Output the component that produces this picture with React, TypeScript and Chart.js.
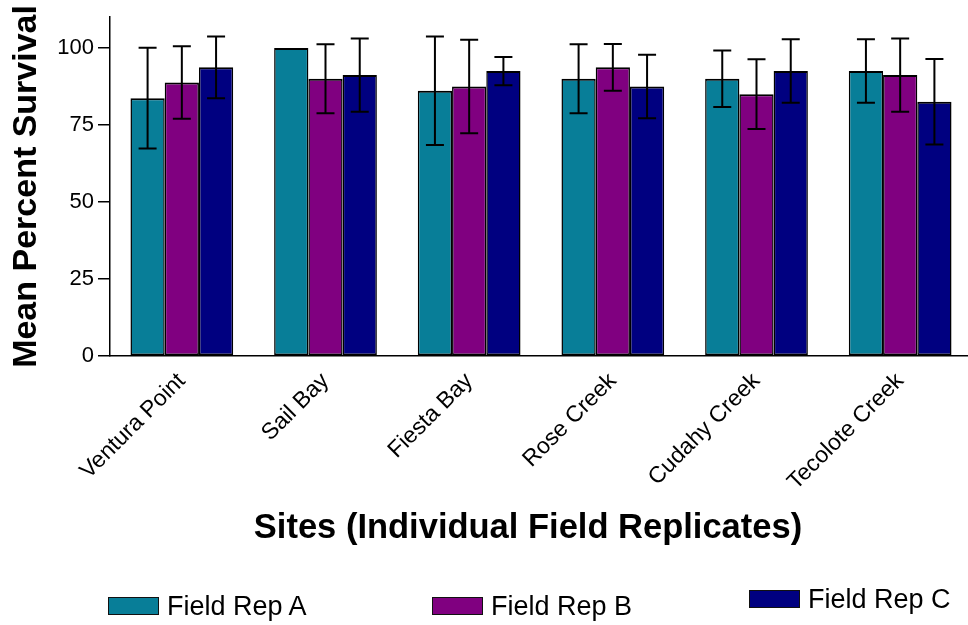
import React, { useEffect, useRef } from "react";
import { Chart, registerables } from "chart.js";

Chart.register(...registerables);

// ---- data ----
const sites = ["Ventura Point", "Sail Bay", "Fiesta Bay", "Rose Creek", "Cudahy Creek", "Tecolote Creek"];
const seriesNames = ["Field Rep A", "Field Rep B", "Field Rep C"];
const seriesColors = ["#087E98", "#800080", "#000080"];
const repA = [83.7, 100, 86.1, 90.0, 90.0, 92.5];
const repAErr = [16.4, 0, 17.6, 11.2, 9.2, 10.3];
const repB = [88.8, 90.0, 87.5, 93.7, 85.0, 91.2];
const repBErr = [11.8, 11.2, 15.2, 7.6, 11.3, 11.9];
const repC = [93.7, 91.2, 92.5, 87.5, 92.5, 82.5];
const repCErr = [10.0, 11.9, 4.6, 10.3, 10.3, 13.9];
const yTickValues = [0, 25, 50, 75, 100];
const yMin = 0;
const yMax = 110;
const yTitle = "Mean Percent Survival";
const xTitle = "Sites (Individual Field Replicates)";

const FONT = "'Liberation Sans', Arial, Helvetica, sans-serif";

const errorBarPlugin = {
  id: "errorBars",
  afterDatasetsDraw(chart: any) {
    const ctx = chart.ctx;
    const y = chart.scales.y;
    chart.data.datasets.forEach((ds: any, di: number) => {
      const meta = chart.getDatasetMeta(di);
      meta.data.forEach((bar: any, i: number) => {
        const e = ds.errors ? ds.errors[i] : 0;
        if (!e) return;
        const v = ds.data[i];
        const yTop = y.getPixelForValue(v + e);
        const yBot = y.getPixelForValue(v - e);
        const half = 9;
        ctx.save();
        ctx.strokeStyle = "#000";
        ctx.lineWidth = 2;
        ctx.beginPath();
        ctx.moveTo(bar.x, yTop);
        ctx.lineTo(bar.x, yBot);
        ctx.moveTo(bar.x - half, yTop);
        ctx.lineTo(bar.x + half, yTop);
        ctx.moveTo(bar.x - half, yBot);
        ctx.lineTo(bar.x + half, yBot);
        ctx.stroke();
        ctx.restore();
      });
    });
  },
};

const legendPos = [
  { left: 108, top: 597 },
  { left: 432, top: 597 },
  { left: 749, top: 590 },
];

export default function App() {
  const canvasRef = useRef<HTMLCanvasElement | null>(null);

  useEffect(() => {
    document.body.style.margin = "0";
    const canvas = canvasRef.current;
    if (!canvas) return;
    const values = [repA, repB, repC];
    const errs = [repAErr, repBErr, repCErr];
    const chart = new Chart(canvas, {
      type: "bar",
      data: {
        labels: sites,
        datasets: seriesNames.map((name, i) => ({
          label: name,
          data: values[i],
          errors: errs[i],
          backgroundColor: seriesColors[i],
          borderColor: "#000",
          borderWidth: { top: 2, left: 1.5, right: 1.5, bottom: 1.5 },
          borderSkipped: false,
          categoryPercentage: 0.715,
          barPercentage: 1.0,
        })) as any,
      },
      options: {
        animation: false,
        responsive: true,
        maintainAspectRatio: false,
        layout: { padding: { top: 10, left: 0, right: 0, bottom: 0 } },
        plugins: {
          legend: { display: false },
          tooltip: { enabled: false },
        },
        scales: {
          x: {
            grid: { display: false },
            border: { display: true, color: "#000", width: 1.5 },
            ticks: {
              color: "#000",
              font: { family: FONT, size: 23 },
              minRotation: 45,
              maxRotation: 45,
              padding: 4,
              autoSkip: false,
            },
            afterFit: (s: any) => {
              s.height = 269.3;
            },
          },
          y: {
            min: yMin,
            max: yMax,
            afterFit: (s: any) => {
              s.width = 110;
            },
            afterBuildTicks: (s: any) => {
              s.ticks = yTickValues.map((v) => ({ value: v }));
            },
            grid: {
              display: true,
              drawOnChartArea: false,
              drawTicks: true,
              tickLength: 12,
              color: "#000",
              lineWidth: 1.5,
            },
            border: { display: true, color: "#000", width: 1.5 },
            ticks: {
              color: "#000",
              font: { family: FONT, size: 22 },
              padding: 4,
            },
            title: {
              display: true,
              text: yTitle,
              color: "#000",
              font: { family: FONT, size: 34, weight: "bold" },
              padding: { top: 6, bottom: 0 },
            },
          },
        },
      } as any,
      plugins: [errorBarPlugin],
    });
    return () => chart.destroy();
  }, []);

  return (
    <div
      style={{
        position: "fixed",
        left: 0,
        top: 0,
        width: 968,
        height: 625,
        overflow: "hidden",
        background: "#fff",
        fontFamily: FONT,
      }}
    >
      <div style={{ position: "absolute", left: 0, top: 0, width: 972, height: 625 }}>
        <canvas ref={canvasRef} />
      </div>
      <div
        style={{
          position: "absolute",
          left: 0,
          width: 1056,
          top: 509,
          textAlign: "center",
          fontSize: 34.5,
          lineHeight: "34px",
          fontWeight: "bold",
          color: "#000",
          whiteSpace: "nowrap",
        }}
      >
        {xTitle}
      </div>
      {seriesNames.map((name, i) => (
        <div key={name}>
          <div
            style={{
              position: "absolute",
              left: legendPos[i].left,
              top: legendPos[i].top,
              width: 51,
              height: 18,
              boxSizing: "border-box",
              border: "1.5px solid #111",
              background: seriesColors[i],
            }}
          />
          <div
            style={{
              position: "absolute",
              left: legendPos[i].left + 59,
              top: legendPos[i].top + 9 - 13.2,
              fontSize: 27,
              lineHeight: "27px",
              color: "#000",
              whiteSpace: "nowrap",
            }}
          >
            {name}
          </div>
        </div>
      ))}
    </div>
  );
}
